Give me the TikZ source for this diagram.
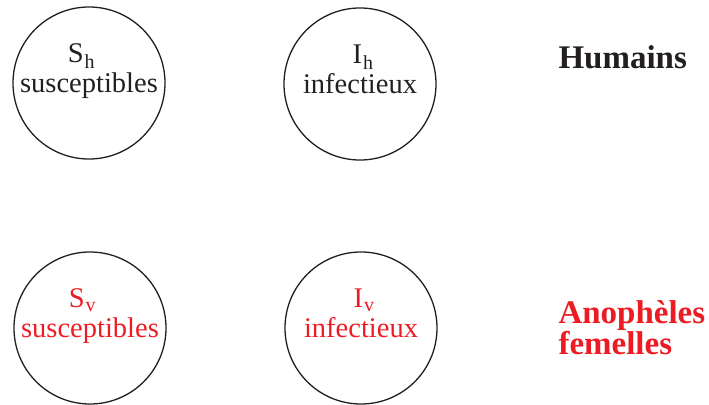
\documentclass[tikz,border=0pt]{standalone}
\usepackage{fontspec}
\setmainfont{Liberation Serif}
\usepackage{xcolor}
\usepackage{tikz}
\definecolor{Ink}{HTML}{231F20}
\definecolor{Vector}{RGB}{237,28,36}
\tikzset{
  compartment/.style={draw=Ink, circle, line width=1.3pt, minimum size=152pt, inner sep=0pt},
  compartlabel/.style={align=center, text=Ink, font=\fontsize{28.5}{30}\selectfont, yshift=11.5pt},
  population/.style={align=left, anchor=base west, font=\fontsize{33}{31}\selectfont\bfseries}
}

\begin{document}
\begin{tikzpicture}[x=1pt,y=-1pt]
  \useasboundingbox (0,0) rectangle (709,404);
  \node[compartment] (sh) at (89,83) {};
  \node[compartment] (ih) at (360,84) {};
  \node[compartment] (sv) at (90,328) {};
  \node[compartment] (iv) at (361,328) {};
  \node[compartlabel] (shtext) at (sh.center) {S\kern1pt\textsubscript{h}\kern15pt\\susceptibles};
  \node[compartlabel] (ihtext) at (ih.center) {\kern6pt I\kern1pt\textsubscript{h}\\infectieux\vphantom{p}};
  \node[compartlabel, text=Vector] (svtext) at (sv.center) {S\kern1pt\textsubscript{v}\kern15pt\\susceptibles};
  \node[compartlabel, text=Vector] (ivtext) at (iv.center) {\kern6pt I\kern1pt\textsubscript{v}\\infectieux\vphantom{p}};
  \node[population, text=Ink] (humans) at (555,68) {Humains};
  \node[population, text=Vector] (mosquitoes) at (555,354) {Anophèles\\femelles};
\end{tikzpicture}
\end{document}
